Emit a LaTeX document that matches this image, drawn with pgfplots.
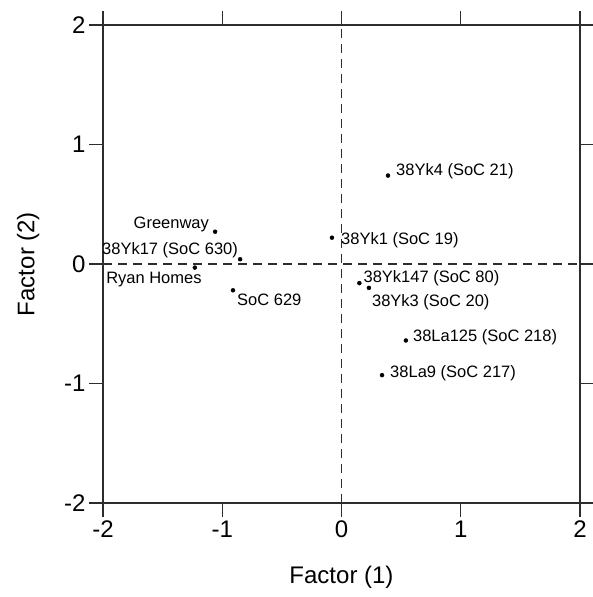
\documentclass[border=0pt]{standalone}
\usepackage{pgfplots}
\pgfplotsset{compat=1.18}
\usepackage{fontspec}
\setmainfont{Liberation Sans}
\definecolor{axgray}{RGB}{45,45,45}

% one site: label anchor, x and y offset (pt) from the dot
\pgfplotsset{site/.style n args={3}{
    only marks, mark=*, mark size=2pt, black,
    point meta=explicit symbolic,
    nodes near coords,
    every node near coord/.append style={
        font=\fontsize{16.5}{19}\selectfont, text=black, inner sep=0pt,
        anchor=#1, xshift=#2pt, yshift=#3pt}}}

\begin{document}
\begin{tikzpicture}
\begin{axis}[
    width=477pt, height=478pt,
    scale only axis,
    xmin=-2, xmax=2, ymin=-2, ymax=2,
    xtick={-2,-1,0,1,2}, ytick={-2,-1,0,1,2},
    tick pos=both,
    tick align=outside,
    major tick length=14pt,
    axis line style={axgray, line width=1.2pt},
    every tick/.style={axgray, line width=1.2pt},
    /pgf/number format/assume math mode=true,
    ticklabel style={font=\fontsize{24}{28}\selectfont},
    label style={font=\fontsize{24}{28}\selectfont},
    xlabel={Factor (1)},
    ylabel={Factor (2)},
    xlabel style={yshift=-22pt},
    ylabel style={yshift=18pt},
    clip=false,
]
\addplot[axgray, line width=1.4pt, dash pattern=on 9pt off 6pt] coordinates {(0,-2) (0,2)};
\addplot[axgray, line width=1.4pt, dash pattern=on 9pt off 6pt] coordinates {(-2,0) (2,0)};
\addplot[site={base west}{8}{0}]   coordinates {(0.39,0.74) [38Yk4 (SoC 21)]};
\addplot[site={base west}{9}{-7}]  coordinates {(-0.08,0.22) [38Yk1 (SoC 19)]};
\addplot[site={base west}{4}{1}]   coordinates {(0.15,-0.16) [38Yk147 (SoC 80)]};
\addplot[site={base west}{3}{-19}] coordinates {(0.23,-0.20) [38Yk3 (SoC 20)]};
\addplot[site={base west}{7}{-1}]  coordinates {(0.54,-0.64) [38La125 (SoC 218)]};
\addplot[site={base west}{8}{-2}]  coordinates {(0.34,-0.93) [38La9 (SoC 217)]};
\addplot[site={base east}{-6}{3}]  coordinates {(-1.06,0.27) [Greenway]};
\addplot[site={base east}{-2}{5}]  coordinates {(-0.85,0.04) [38Yk17 (SoC 630)]};
\addplot[site={base east}{7}{-16}] coordinates {(-1.23,-0.03) [Ryan Homes]};
\addplot[site={base west}{4}{-15}] coordinates {(-0.91,-0.22) [SoC 629]};
\end{axis}
\pgfresetboundingbox
\path (current axis.south west) ++(-103pt,-94pt);
\path (current axis.north east) ++(13pt,25pt);
\end{tikzpicture}
\end{document}
